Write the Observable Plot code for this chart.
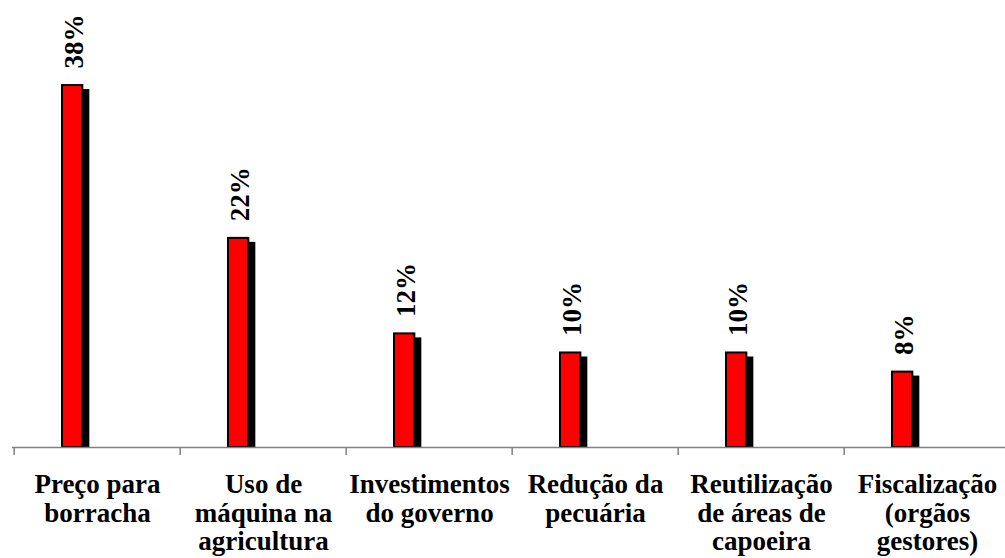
<!DOCTYPE html>
<html>
<head>
<meta charset="utf-8">
<script src="https://cdn.jsdelivr.net/npm/d3@7"></script>
<script src="https://cdn.jsdelivr.net/npm/@observablehq/plot@0.6"></script>
<style>
  html, body { margin: 0; padding: 0; background: #fff; }
  svg { display: block; overflow: visible; }
</style>
</head>
<body>
<div id="chart"></div>
<script>
const categories = [
  "Preço para\nborracha",
  "Uso de\nmáquina na\nagricultura",
  "Investimentos\ndo governo",
  "Redução da\npecuária",
  "Reutilização\nde áreas de\ncapoeira",
  "Fiscalização\n(orgãos\ngestores)"
];
const values = [38, 22, 12, 10, 10, 8];
const valueLabels = ["38%", "22%", "12%", "10%", "10%", "8%"];

const data = categories.map((c, i) => ({category: c, value: values[i], label: valueLabels[i]}));
const font = "Tinos, 'Liberation Serif', LiberationSerif, 'Times New Roman', Times, 'Nimbus Roman', 'Nimbus Roman No9 L', FreeSerif, 'DejaVu Serif', serif";
const bw = 1000 / categories.length;

const chart = Plot.plot({
  width: 1005,
  height: 558,
  marginTop: 0,
  marginLeft: 12,
  marginRight: -7,
  marginBottom: 111,
  style: {background: "white", fontFamily: font},
  x: {type: "band", domain: categories, padding: 0, axis: null},
  y: {domain: [0, 46.8], axis: null},
  marks: [
    Plot.barY(data, {x: "category", y: "value", fill: "black", insetLeft: 53, insetRight: bw - 76, insetTop: 5}),
    Plot.barY(data, {x: "category", y: "value", fill: "#ff0000", stroke: "black", strokeWidth: 2, insetLeft: 48, insetRight: bw - 69, insetTop: 1}),
    Plot.ruleY([0], {stroke: "#808080", strokeWidth: 1.5}),
    Plot.ruleX(categories, {x: d => d, y1: 0, y2: -0.85, dx: -bw / 2, stroke: "#808080", strokeWidth: 1.5}),
    Plot.text(data, {x: "category", y: "value", text: "label", rotate: -90, textAnchor: "start", lineAnchor: "middle", dx: -23.5, dy: -16, fontSize: 27, fontWeight: "bold", fontFamily: font, fill: "black"}),
    Plot.text(data, {x: "category", y: 0, text: "category", lineAnchor: "top", dy: 26, fontSize: 27, fontWeight: "bold", fontFamily: font, lineHeight: 1.04, fill: "black"})
  ]
});
document.getElementById("chart").appendChild(chart);
</script>
</body>
</html>
